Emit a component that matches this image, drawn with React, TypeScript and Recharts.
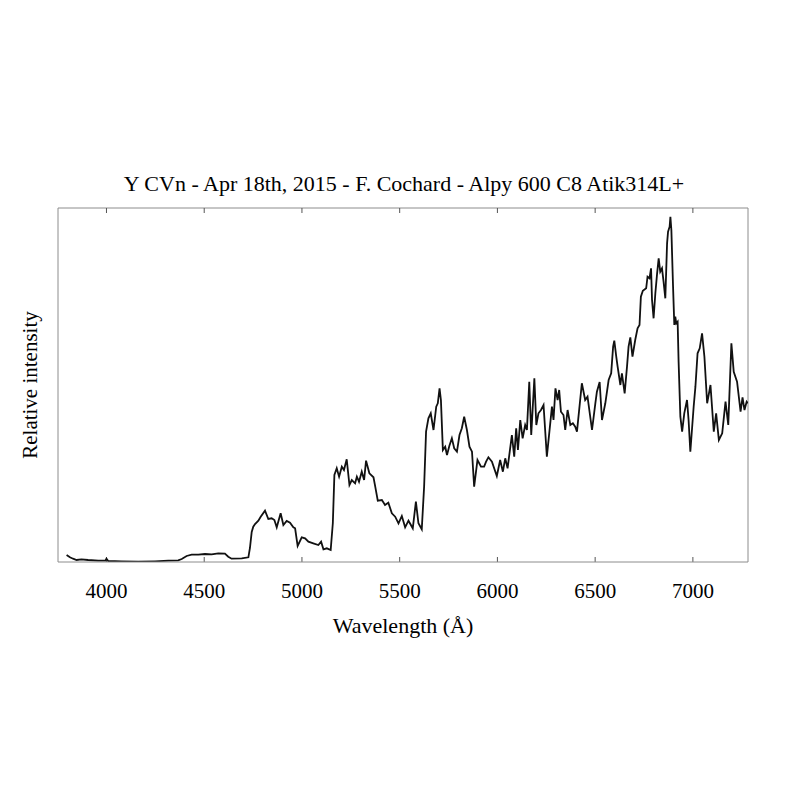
import { LineChart, Line, XAxis, YAxis, ReferenceLine, Label } from "recharts";

// Wavelength (Å) of each sample
const wavelengths = [
  3796, 3813, 3829, 3847, 3872, 3906, 3958, 3995, 4000, 4009,
  4077, 4162, 4248, 4316, 4367, 4385, 4410, 4436, 4470, 4504,
  4538, 4572, 4606, 4623, 4640, 4692, 4726, 4734, 4743, 4751,
  4760, 4777, 4789, 4811, 4828, 4845, 4859, 4871, 4891, 4905,
  4922, 4939, 4956, 4965, 4978, 4999, 5016, 5033, 5058, 5084,
  5098, 5110, 5127, 5147, 5158, 5166, 5178, 5190, 5204, 5215,
  5229, 5243, 5255, 5272, 5281, 5292, 5306, 5318, 5328, 5345,
  5366, 5375, 5388, 5409, 5425, 5442, 5460, 5477, 5494, 5511,
  5528, 5545, 5567, 5583, 5596, 5613, 5625, 5635, 5647, 5659,
  5673, 5687, 5695, 5704, 5711, 5721, 5733, 5742, 5754, 5767,
  5779, 5793, 5806, 5818, 5830, 5844, 5857, 5870, 5881, 5898,
  5916, 5932, 5942, 5954, 5972, 5997, 6014, 6028, 6040, 6052,
  6074, 6086, 6096, 6105, 6117, 6129, 6142, 6151, 6163, 6173,
  6189, 6199, 6210, 6223, 6236, 6253, 6279, 6287, 6297, 6308,
  6316, 6325, 6338, 6347, 6359, 6373, 6386, 6398, 6407, 6432,
  6449, 6461, 6484, 6501, 6509, 6523, 6535, 6552, 6569, 6582,
  6592, 6598, 6608, 6615, 6629, 6637, 6651, 6663, 6671, 6680,
  6691, 6705, 6717, 6727, 6734, 6744, 6761, 6768, 6778, 6786,
  6791, 6799, 6808, 6817, 6825, 6833, 6842, 6850, 6859, 6868,
  6873, 6881, 6885, 6890, 6898, 6905, 6910, 6915, 6922, 6927,
  6936, 6945, 6956, 6970, 6978, 6987, 7004, 7013, 7024, 7035,
  7047, 7059, 7073, 7090, 7107, 7119, 7133, 7150, 7167, 7181,
  7197, 7209, 7226, 7244, 7254, 7264, 7275, 7281,
];

// relative intensity (arbitrary units)
const intensities = [
  7, 4.7, 3.3, 2, 2.7, 2, 1.3, 1.5, 3.3, 1,
  0.7, 0.3, 0.7, 1.3, 1.7, 3, 6, 7.3, 7.3, 8,
  7.7, 8.7, 8.3, 5.3, 3.3, 3.7, 4.7, 14, 30, 35.3,
  38, 41.3, 45.3, 51.3, 43, 43.7, 42, 34.7, 48.7, 37,
  41, 39.3, 34.7, 33.7, 16, 24.7, 23.7, 20.3, 18.7, 17,
  20.3, 12.7, 13.7, 12, 38.7, 87, 93.7, 85.3, 95.3, 92,
  102.7, 77, 82, 78.7, 85.3, 80.3, 90.3, 82, 101.3, 88.7,
  84.7, 75.3, 61.3, 62, 57, 59.3, 48.7, 45.3, 38.7, 46,
  34.7, 41.3, 33.7, 60.3, 38.7, 32.7, 75.3, 130.3, 143.7, 148.7,
  132, 155.3, 158.7, 173.7, 162, 112, 115.3, 107, 116, 123.7,
  113.7, 110.3, 127, 133.7, 145.3, 132, 115.3, 110.3, 75.3, 102,
  95.3, 95.3, 100.3, 104.7, 100.3, 86, 102, 90.3, 103.7, 93.7,
  127, 105.3, 133.7, 112, 142, 123.7, 137, 132, 180.3, 127,
  183.7, 137, 148.7, 152, 157, 105.3, 155.3, 142, 173.7, 162,
  172, 150.3, 147, 132, 152, 137, 138.7, 135.3, 130.3, 178.7,
  162, 165.3, 132, 158.7, 170.3, 180, 142, 158.7, 182, 188.7,
  215.3, 221.3, 205.3, 195.3, 177, 188.7, 168.7, 195.3, 215.3, 224.7,
  205.3, 222, 233.7, 237, 265.3, 271.3, 273.7, 285.3, 283.7, 293.7,
  262, 243.7, 268.7, 288.7, 303.7, 290.3, 293.7, 280.3, 263.7, 318.7,
  330.3, 335.3, 345.3, 332, 278.7, 237, 245.3, 238.7, 240.3, 200,
  145.3, 130.3, 148.7, 162, 142, 110.3, 155.3, 175.3, 208.7, 213.7,
  228.7, 205.3, 158.7, 177, 130.3, 148.7, 122, 128.7, 160.3, 137,
  218.7, 190.3, 180.3, 150.3, 164.7, 152, 160.3, 158.7,
];

const wavelengthTicks = [4000, 4500, 5000, 5500, 6000, 6500, 7000];
const chartTitle = "Y CVn - Apr 18th, 2015 - F. Cochard - Alpy 600 C8 Atik314L+";

const data = wavelengths.map((wl, i) => ({ wl, flux: intensities[i] }));

const FONT = '"Liberation Serif", "Times New Roman", serif';
const FRAME = "#8c8c8c";
const X_MIN = 3752;
const X_MAX = 7282;
const Y_MAX = 354;
const TICK_LEN = 5; // in intensity units (~1px each)

function YTitle(props: any) {
  const vb = props.viewBox;
  const cx = vb.x + 22;
  const cy = vb.y + vb.height / 2;
  return (
    <text
      x={cx}
      y={cy}
      transform={`rotate(-90 ${cx} ${cy})`}
      textAnchor="middle"
      dominantBaseline="central"
      fontFamily={FONT}
      fontSize={21}
      fill="#000"
    >
      Relative intensity
    </text>
  );
}

export default function App() {
  return (
    <div style={{ position: "relative", width: 800, height: 800 }}>
      <div
        style={{
          position: "absolute",
          top: 165,
          left: 0,
          width: 792,
          textAlign: "center",
          fontFamily: FONT,
          fontSize: 22,
          lineHeight: "22px",
          color: "#000",
        }}
      >
        {chartTitle}
      </div>
      <LineChart
        width={800}
        height={800}
        data={data}
        margin={{ top: 200, right: 60, bottom: 156, left: 0 }}
      >
        <XAxis
          dataKey="wl"
          type="number"
          domain={[X_MIN, X_MAX]}
          allowDataOverflow
          ticks={wavelengthTicks}
          height={90}
          tickLine={false}
          tickMargin={15}
          axisLine={{ stroke: FRAME }}
          tick={{ fontSize: 21, fontFamily: FONT, fill: "#000" }}
        >
          <Label
            value="Wavelength (Å)"
            position="insideBottom"
            offset={19}
            fontSize={22}
            fontFamily={FONT}
            fill="#000"
          />
        </XAxis>
        <YAxis
          type="number"
          domain={[0, Y_MAX]}
          allowDataOverflow
          width={50}
          tick={false}
          tickLine={false}
          axisLine={{ stroke: FRAME }}
          label={<YTitle />}
        />
        <ReferenceLine y={Y_MAX} stroke={FRAME} ifOverflow="visible" />
        <ReferenceLine x={X_MAX} stroke={FRAME} ifOverflow="visible" />
        {wavelengthTicks.map((t) => (
          <ReferenceLine
            key={`b${t}`}
            segment={[
              { x: t, y: 0 },
              { x: t, y: TICK_LEN },
            ]}
            stroke="#555"
            ifOverflow="visible"
          />
        ))}
        {wavelengthTicks.map((t) => (
          <ReferenceLine
            key={`t${t}`}
            segment={[
              { x: t, y: Y_MAX - TICK_LEN },
              { x: t, y: Y_MAX },
            ]}
            stroke="#555"
            ifOverflow="visible"
          />
        ))}
        <Line
          type="linear"
          dataKey="flux"
          stroke="#111"
          strokeWidth={1.8}
          dot={false}
          isAnimationActive={false}
        />
      </LineChart>
    </div>
  );
}
